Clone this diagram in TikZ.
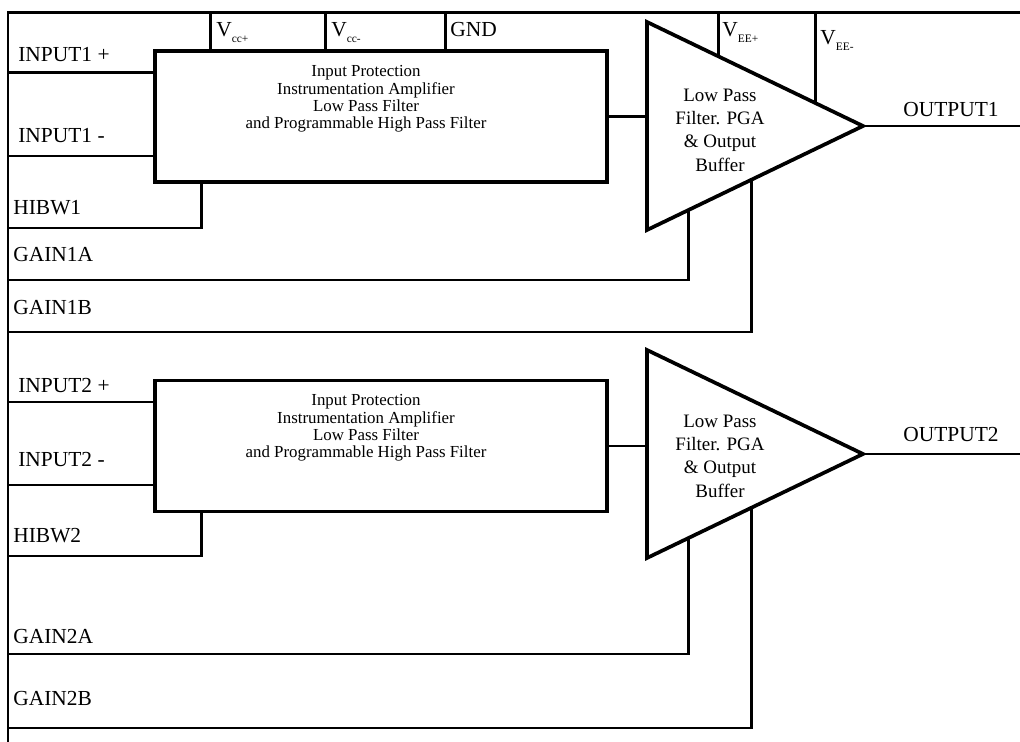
\documentclass[tikz,border=0pt]{standalone}
\usepackage{fontspec}
\setmainfont{Liberation Serif}
\usetikzlibrary{calc,positioning}

\newcommand{\railsub}[1]{\raisebox{-0.55ex}{\fontsize{6.5}{7}\selectfont #1}}

\tikzset{
  wire/.style={line width=1.7pt},
  outwire/.style={line width=1.4pt},
  procbox/.style={draw, line width=2pt, minimum width=9.04cm, minimum height=2.62cm, inner sep=0pt},
  ampline/.style={line width=2.1pt},
  pinlabel/.style={anchor=base west, inner sep=0pt, font=\fontsize{12.2}{14}\selectfont},
  blocktext/.style={align=center, inner sep=0pt, font=\fontsize{9.6}{9.9}\selectfont},
  amptext/.style={align=center, inner sep=0pt, font=\fontsize{10.8}{13.3}\selectfont}
}

\begin{document}
\begin{tikzpicture}[x=0.02cm, y=-0.02cm]
\useasboundingbox (0,0) rectangle (1020,742);

% supply rail and common left rail
\coordinate (topl) at (8,13);
\coordinate (topr) at (1020,13);
\coordinate (botl) at (8,742);
\draw[wire] (topr) -- (topl) -- (botl);

% ---- channel 1 ----
\node[procbox] (blk1) at (381,116.5) {};
\node[blocktext] (b1txt) at (366,99) {Input Protection\\Instrumentation Amplifier\\Low Pass Filter\\and Programmable High Pass Filter};

\coordinate (t1nw) at (647,22);
\coordinate (t1sw) at (647,230);
\coordinate (t1tip) at (863,126);
\draw[ampline] (t1nw) -- (t1tip) -- (t1sw) -- cycle;
\node[amptext] (t1txt) at (720,130) {Low Pass\\Filter. PGA\\\& Output\\Buffer};

\draw[wire] (blk1.east) -- (blk1.east -| t1nw);

% supplies
\foreach \dx in {57,172,292}
  \draw[wire] ($(blk1.north west)+(\dx,0)$) -- ++(0,-38);
\coordinate (vep) at ($(t1nw)!0.329!(t1tip)$);
\coordinate (vem) at ($(t1nw)!0.778!(t1tip)$);
\draw[wire] (vep) -- (vep |- topl);
\draw[wire] (vem) -- (vem |- topl);

\node[pinlabel] (lvccp) at (216,37) {V\railsub{cc+}};
\node[pinlabel] (lvccm) at (331,37) {V\railsub{cc-}};
\node[pinlabel] (lgnd) at (450,37) {GND};
\node[pinlabel] (lveep) at (722,37) {V\railsub{EE+}};
\node[pinlabel] (lveem) at (820,45) {V\railsub{EE-}};

% inputs
\coordinate (in1p) at (8,73);
\coordinate (in1m) at (8,156);
\coordinate (hb1) at (8,228);
\coordinate (g1a) at (8,280);
\coordinate (g1b) at (8,332);
\draw[wire] (in1p) -- (in1p -| blk1.west);
\draw[wire] (in1m) -- (in1m -| blk1.west);
\draw[wire] (hb1) -| ($(blk1.south west)+(48,0)$);
\draw[wire] (g1a) -| ($(t1sw)!0.19!(t1tip)$);
\draw[wire] (g1b) -| ($(t1sw)!0.486!(t1tip)$);

\node[pinlabel] (lin1p) at (18,62) {INPUT1 +};
\node[pinlabel] (lin1m) at (18,143) {INPUT1 -};
\node[pinlabel] (lhb1) at (13,215) {HIBW1};
\node[pinlabel] (lg1a) at (13,262) {GAIN1A};
\node[pinlabel] (lg1b) at (13,315) {GAIN1B};

% output
\coordinate (out1) at (1020,126);
\draw[outwire] (t1tip) -- (out1);
\node[pinlabel] (lout1) at (903,117) {OUTPUT1};

% ---- channel 2 ----
\node[procbox] (blk2) at (381,446) {};
\node[blocktext] (b2txt) at (366,428) {Input Protection\\Instrumentation Amplifier\\Low Pass Filter\\and Programmable High Pass Filter};

\coordinate (t2nw) at (647,350);
\coordinate (t2sw) at (647,558);
\coordinate (t2tip) at (863,454);
\draw[ampline] (t2nw) -- (t2tip) -- (t2sw) -- cycle;
\node[amptext] (t2txt) at (720,456) {Low Pass\\Filter. PGA\\\& Output\\Buffer};

\draw[wire] (blk2.east) -- (blk2.east -| t2nw);

% inputs
\coordinate (in2p) at (8,402);
\coordinate (in2m) at (8,485);
\coordinate (hb2) at (8,556);
\coordinate (g2a) at (8,654);
\coordinate (g2b) at (8,728);
\draw[wire] (in2p) -- (in2p -| blk2.west);
\draw[wire] (in2m) -- (in2m -| blk2.west);
\draw[wire] (hb2) -| ($(blk2.south west)+(48,0)$);
\draw[wire] (g2a) -| ($(t2sw)!0.19!(t2tip)$);
\draw[wire] (g2b) -| ($(t2sw)!0.486!(t2tip)$);

\node[pinlabel] (lin2p) at (18,393) {INPUT2 +};
\node[pinlabel] (lin2m) at (18,467) {INPUT2 -};
\node[pinlabel] (lhb2) at (13,542) {HIBW2};
\node[pinlabel] (lg2a) at (13,643) {GAIN2A};
\node[pinlabel] (lg2b) at (13,705) {GAIN2B};

% output
\coordinate (out2) at (1020,454);
\draw[outwire] (t2tip) -- (out2);
\node[pinlabel] (lout2) at (903,442) {OUTPUT2};
\end{tikzpicture}
\end{document}
